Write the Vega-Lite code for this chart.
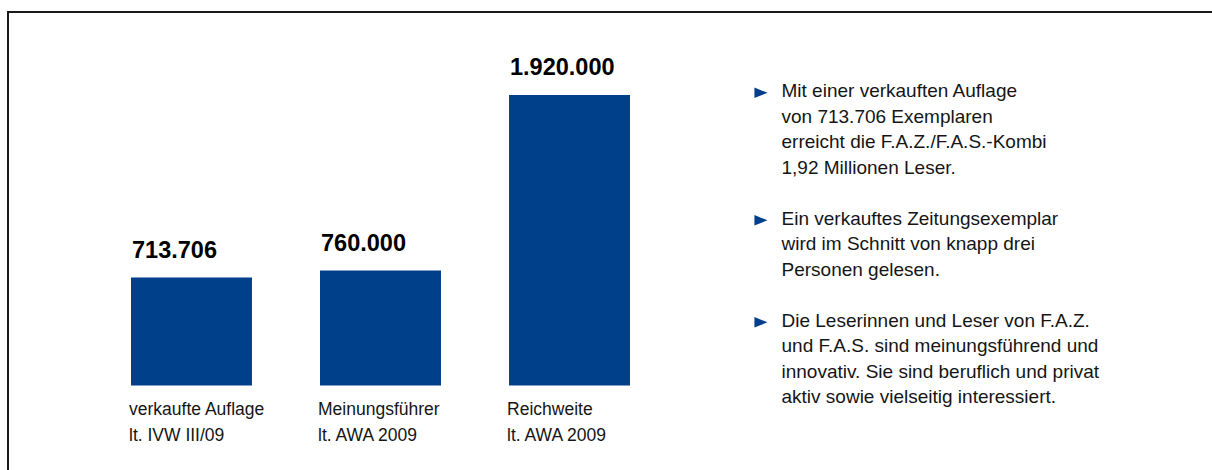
{
  "$schema": "https://vega.github.io/schema/vega-lite/v6.json",
  "width": 1208,
  "height": 462,
  "autosize": {"type": "none"},
  "padding": {"left": 8, "top": 12, "right": -4, "bottom": -4},
  "background": "white",
  "config": {
    "view": {"stroke": "#1a1a1a", "strokeWidth": 2},
    "locale": {"number": {"decimal": ",", "thousands": ".", "grouping": [3], "currency": ["", " €"]}},
    "text": {"font": "Liberation Sans"}
  },
  "datasets": {
    "balken": [
      {"kategorie": "verkaufte Auflage", "beschriftung": "verkaufte Auflage\nlt. IVW III/09", "wert": 713706},
      {"kategorie": "Meinungsführer", "beschriftung": "Meinungsführer\nlt. AWA 2009", "wert": 760000},
      {"kategorie": "Reichweite", "beschriftung": "Reichweite\nlt. AWA 2009", "wert": 1920000}
    ],
    "hinweise": [
      {"absatz": 1, "zeile": 1, "text": "Mit einer verkauften Auflage"},
      {"absatz": 1, "zeile": 2, "text": "von 713.706 Exemplaren"},
      {"absatz": 1, "zeile": 3, "text": "erreicht die F.A.Z./F.A.S.-Kombi"},
      {"absatz": 1, "zeile": 4, "text": "1,92 Millionen Leser."},
      {"absatz": 2, "zeile": 6, "text": "Ein verkauftes Zeitungsexemplar"},
      {"absatz": 2, "zeile": 7, "text": "wird im Schnitt von knapp drei"},
      {"absatz": 2, "zeile": 8, "text": "Personen gelesen."},
      {"absatz": 3, "zeile": 10, "text": "Die Leserinnen und Leser von F.A.Z."},
      {"absatz": 3, "zeile": 11, "text": "und F.A.S. sind meinungsführend und"},
      {"absatz": 3, "zeile": 12, "text": "innovativ. Sie sind beruflich und privat"},
      {"absatz": 3, "zeile": 13, "text": "aktiv sowie vielseitig interessiert."}
    ]
  },
  "layer": [
    {
      "data": {"name": "balken"},
      "encoding": {
        "x": {
          "field": "kategorie", "type": "nominal", "sort": null, "axis": null,
          "scale": {"domain": ["verkaufte Auflage", "Meinungsführer", "Reichweite", "Hinweise"], "range": [123, 811], "paddingInner": 0.36, "paddingOuter": 0, "round": false}
        },
        "y": {
          "field": "wert", "type": "quantitative", "axis": null,
          "scale": {"domain": [-584923, 2468571], "zero": false, "nice": false}
        }
      },
      "layer": [
        {
          "mark": {"type": "bar", "color": "#003f8a"},
          "encoding": {"y2": {"datum": 0}}
        },
        {
          "mark": {"type": "text", "align": "left", "baseline": "alphabetic", "dx": 1, "dy": -20, "fontSize": 23.5, "fontWeight": "bold", "color": "#000000"},
          "encoding": {
            "x": {"field": "kategorie", "type": "nominal", "bandPosition": 0},
            "text": {"field": "wert", "type": "quantitative", "format": ",d"}
          }
        },
        {
          "mark": {"type": "text", "align": "left", "baseline": "alphabetic", "dx": -2, "dy": 29.5, "fontSize": 17.5, "lineBreak": "\n", "lineHeight": 26.5, "color": "#151515"},
          "encoding": {
            "x": {"field": "kategorie", "type": "nominal", "bandPosition": 0},
            "y": {"datum": 0, "type": "quantitative"},
            "text": {"field": "beschriftung", "type": "nominal"}
          }
        }
      ]
    },
    {
      "data": {"name": "hinweise"},
      "encoding": {
        "y": {
          "field": "zeile", "type": "ordinal", "axis": null,
          "scale": {"type": "point", "domain": [1, 2, 3, 4, 5, 6, 7, 8, 9, 10, 11, 12, 13], "range": [85, 391], "padding": 0, "round": false}
        }
      },
      "layer": [
        {
          "mark": {"type": "text", "align": "left", "baseline": "alphabetic", "fontSize": 19, "color": "#151515"},
          "encoding": {
            "x": {"datum": "Hinweise", "type": "nominal", "bandPosition": 0.69},
            "text": {"field": "text", "type": "nominal"}
          }
        },
        {
          "transform": [
            {"window": [{"op": "row_number", "as": "nr"}], "groupby": ["absatz"], "sort": [{"field": "zeile"}]},
            {"filter": "datum.nr == 1"}
          ],
          "mark": {"type": "point", "shape": "M-1,-1.45L1,-0.65L-1,0.15Z", "size": 170, "filled": true, "opacity": 1, "color": "#003f8a"},
          "encoding": {
            "x": {"datum": "Hinweise", "type": "nominal", "bandPosition": 0.52}
          }
        }
      ]
    }
  ],
  "resolve": {"scale": {"y": "independent"}}
}
